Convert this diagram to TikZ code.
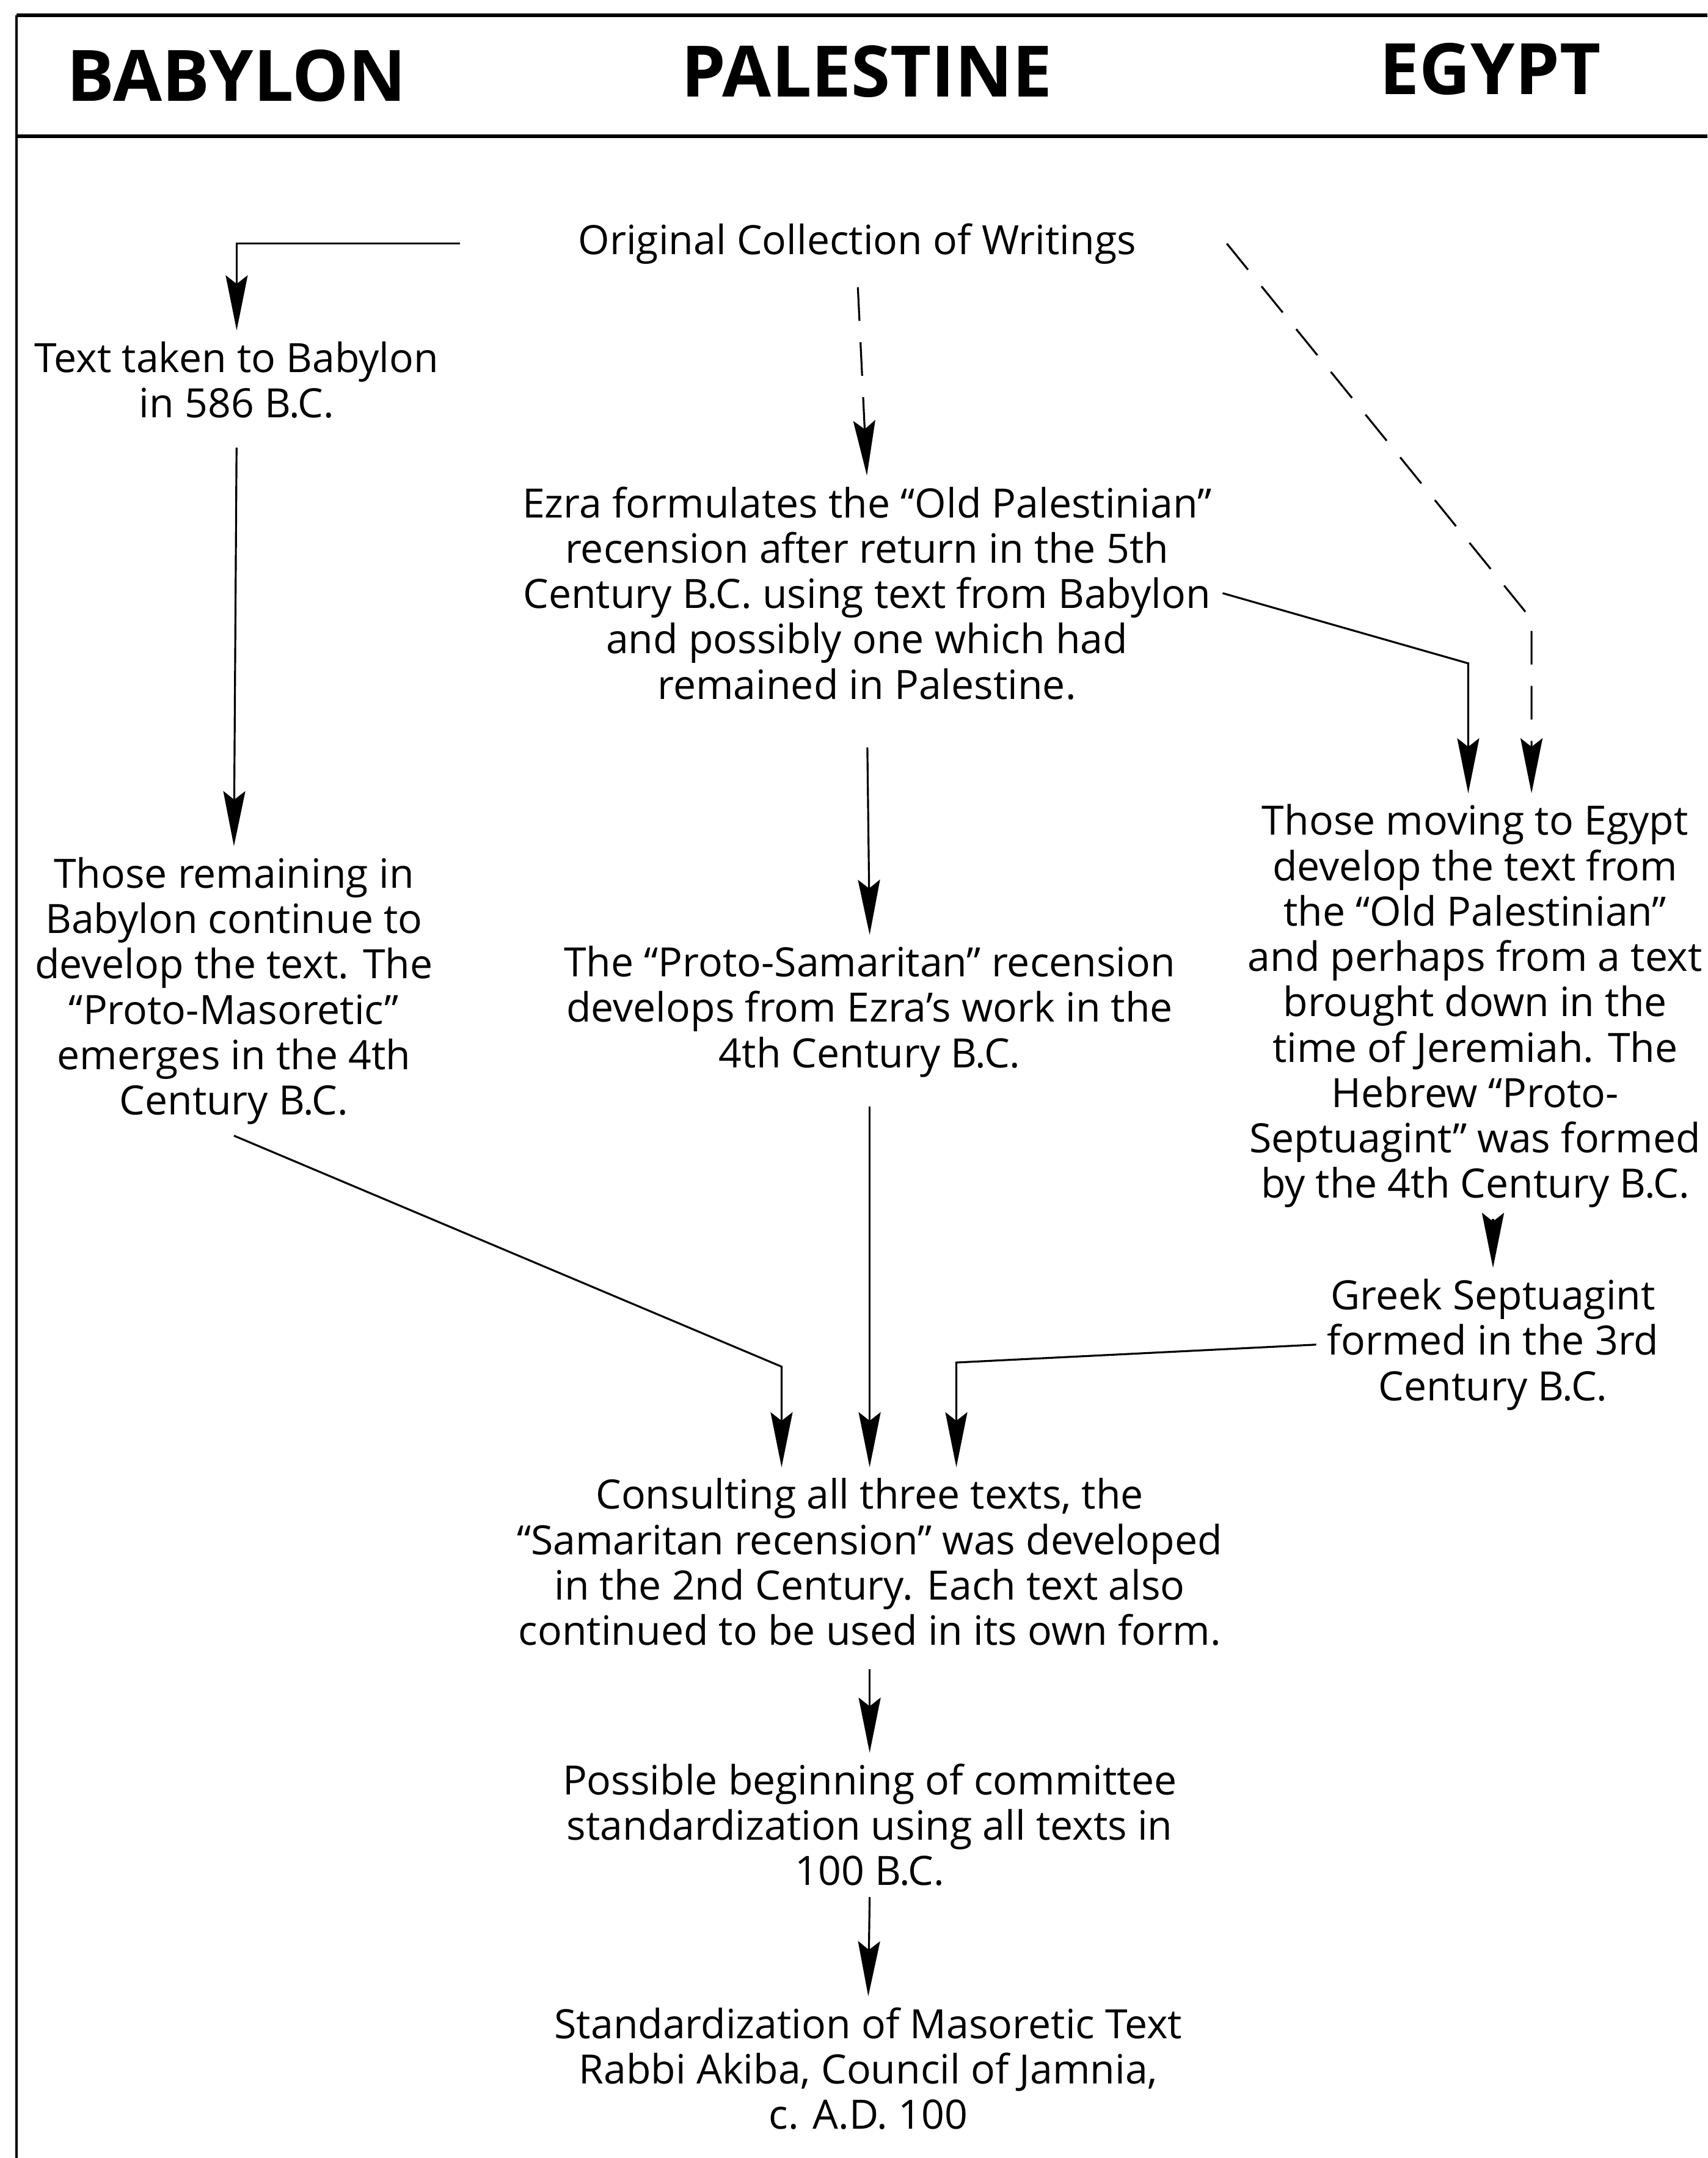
\documentclass[tikz,border=0pt]{standalone}
\usepackage{fontspec}
\setmainfont{Open Sans}
\usetikzlibrary{arrows.meta,positioning}

\tikzset{
  txt/.style={align=center, inner sep=5pt, font=\fontsize{18.8}{21.1}\selectfont},
  head/.style={inner sep=0pt, font=\fontsize{33}{38}\selectfont\bfseries},
  arr/.style={-{Stealth[length=0.9cm, width=0.36cm, inset=0.14cm]}, line width=0.9pt},
  dsh/.style={arr, dash pattern=on 0.55cm off 0.35cm}
}

\begin{document}
\begin{tikzpicture}[x=0.0225cm, y=-0.0225cm]
  \useasboundingbox (0,0) rectangle (1241,1568);
  \clip (0,0) rectangle (1241,1568);

  \draw[line width=1.7pt] (12,11) -- (1241,11)  (12,99) -- (1241,99);
  \draw[line width=0.9pt] (12,11) -- (12,1568);

  \node[head] (babylon)   at (172,55) {BABYLON};
  \node[head] (palestine) at (630,52) {PALESTINE};
  \node[head] (egypthead) at (1083,50) {EGYPT};

  \node[txt] (orig) at (623,177) {Original Collection of Writings};
  \node[txt] (taken) at (172,276) {Text taken to Babylon\\in 586 B.C.};
  \node[txt] (remain) at (170,720) {Those remaining in\\Babylon continue to\\develop the text. The\\“Proto-Masoretic”\\emerges in the 4th\\Century B.C.};
  \node[txt] (ezra) at (630,431) {Ezra formulates the “Old Palestinian”\\recension after return in the 5th\\Century B.C. using text from Babylon\\and possibly one which had\\remained in Palestine.};
  \node[txt] (samar) at (632,735) {The “Proto-Samaritan” recension\\develops from Ezra’s work in the\\4th Century B.C.};
  \node[txt] (egypt) at (1072,731) {Those moving to Egypt\\develop the text from\\the “Old Palestinian”\\and perhaps from a text\\brought down in the\\time of Jeremiah. The\\Hebrew “Proto-\\Septuagint” was formed\\by the 4th Century B.C.};
  \node[txt] (greek) at (1085,977) {Greek Septuagint\\formed in the 3rd\\Century B.C.};
  \node[txt] (consult) at (632,1135) {Consulting all three texts, the\\“Samaritan recension” was developed\\in the 2nd Century. Each text also\\continued to be used in its own form.};
  \node[txt] (poss) at (632,1326) {Possible beginning of committee\\standardization using all texts in\\100 B.C.};
  \node[txt] (masor) at (631,1503) {Standardization of Masoretic Text\\Rabbi Akiba, Council of Jamnia,\\c. A.D. 100};

  \coordinate[right=1.3cm of orig.east] (dStart);
  \coordinate (bendE) at (1067,482);
  \coordinate (bendD) at (1113,450);
  \coordinate (bendL) at (568,993);
  \coordinate (bendR) at (695,990);

  \draw[arr, shorten <=1.75cm] (orig.west) -| (taken.north);
  \draw[arr, shorten <=0.3cm] (taken.south) -- (remain.north);
  \draw[dsh, shorten <=0.2cm] (orig.south) -- (ezra.north);
  \draw[dsh] (dStart) -- (bendD) -- (bendD |- egypt.north);
  \draw[arr] (ezra.east) -- (bendE) -- (bendE |- egypt.north);
  \draw[arr, shorten <=0.6cm] (ezra.south) -- (samar.north);
  \draw[arr, shorten <=0.3cm] (samar.south) -- (consult.north);
  \draw[arr] (greek.north |- egypt.south) -- (greek.north);
  \draw[arr] (remain.south) -- (bendL) -- (bendL |- consult.north);
  \draw[arr] (greek.west) -- (bendR) -- (bendR |- consult.north);
  \draw[arr, shorten <=0.2cm] (consult.south) -- (poss.north);
  \draw[arr] (poss.south) -- (masor.north);
\end{tikzpicture}
\end{document}
